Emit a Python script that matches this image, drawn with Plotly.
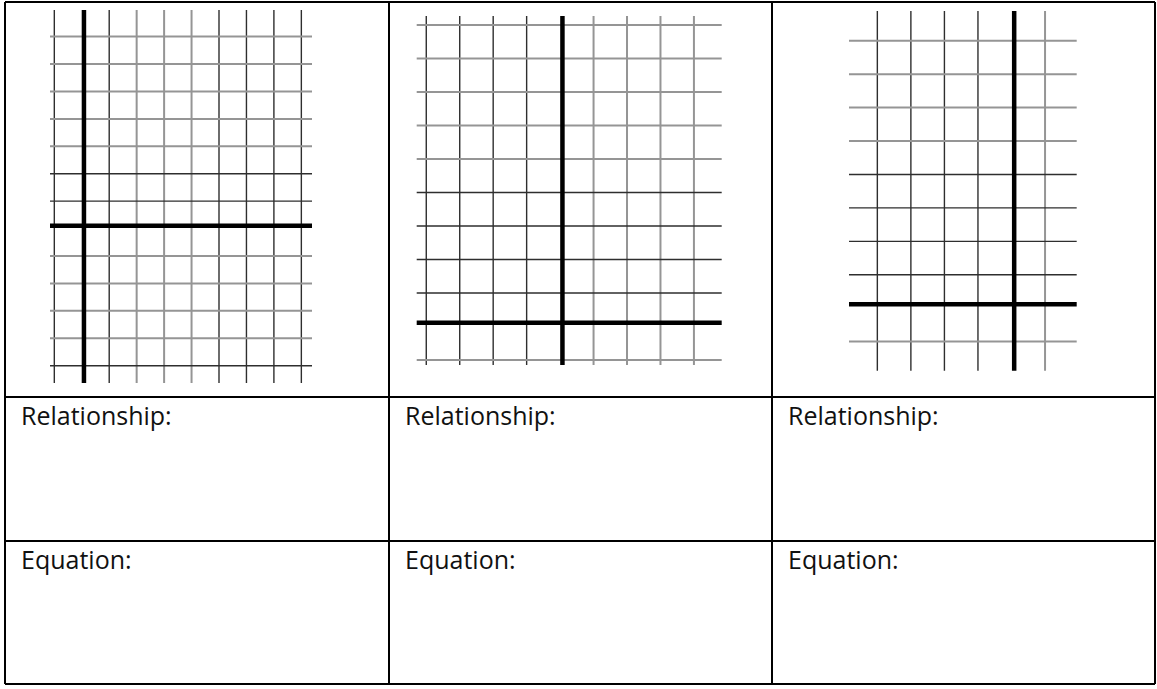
import plotly.graph_objects as go

# -- blank coordinate grids, one per column of the worksheet table --
# grid line values (the bold axes sit at 0, drawn a touch off the grid as in the scan)
g1_x = [-1, 1, 2, 3, 4, 5, 6, 7, 8]
g1_y = [7, 6, 5, 4, 3, 2, 1, -1, -2, -3, -4, -5]
g1_axes = [0.08, 0.1]

g2_x = [-4, -3, -2, -1, 1, 2, 3, 4]
g2_y = [9, 8, 7, 6, 5, 4, 3, 2, 1, -1]
g2_axes = [0.07, 0.11]

g3_x = [-4, -3, -2, -1, 1]
g3_y = [8, 7, 6, 5, 4, 3, 2, 1, -1]
g3_axes = [0.08, 0.12]

row_labels = ["Relationship:", "Equation:"]

# line shades (d = dark, g = grey, blurred)
g1_xshade = "ddgggdddd"
g1_yshade = "gggggddggggd"
g2_xshade = "ddddgggg"
g2_yshade = "gggggddddg"
g3_xshade = "ddddg"
g3_yshade = "ggggddddg"

W, H = 1157, 689
shade = {"d": dict(color="#2e2e2e", width=1.4), "g": dict(color="#959595", width=2)}

# panel boxes in pixels (left, right, top, bottom) and axis ranges
panels = [
    dict(px=(50, 312, 10, 383), xr=(-1.157, 8.388), yr=(-5.63, 7.97),
         xs=g1_x, ys=g1_y, ax=g1_axes, xsh=g1_xshade, ysh=g1_yshade),
    dict(px=(416.7, 721.7, 16, 365), xr=(-4.286, 4.83), yr=(-1.15, 9.27),
         xs=g2_x, ys=g2_y, ax=g2_axes, xsh=g2_xshade, ysh=g2_yshade),
    dict(px=(849, 1076.7, 11, 370.7), xr=(-4.845, 1.944), yr=(-1.87, 8.89),
         xs=g3_x, ys=g3_y, ax=g3_axes, xsh=g3_xshade, ysh=g3_yshade),
]

fig = go.Figure()
layout = {}
for i, p in enumerate(panels, start=1):
    sfx = "" if i == 1 else str(i)
    l, r, t, b = p["px"]
    hidden = dict(showgrid=False, zeroline=False, showticklabels=False,
                  ticks="", showline=False, fixedrange=True)
    layout["xaxis" + sfx] = dict(domain=[l / W, r / W], range=list(p["xr"]),
                                 anchor="y" + sfx, **hidden)
    layout["yaxis" + sfx] = dict(domain=[1 - b / H, 1 - t / H], range=list(p["yr"]),
                                 anchor="x" + sfx, **hidden)
    fig.add_trace(go.Scatter(x=[], y=[], xaxis="x" + sfx, yaxis="y" + sfx,
                             showlegend=False, hoverinfo="skip"))
    xref, yref = "x" + sfx, "y" + sfx
    for v, s in zip(p["xs"], p["xsh"]):
        fig.add_shape(type="line", xref=xref, yref=yref + " domain",
                      x0=v, x1=v, y0=0, y1=1, line=shade[s])
    for v, s in zip(p["ys"], p["ysh"]):
        fig.add_shape(type="line", xref=xref + " domain", yref=yref,
                      x0=0, x1=1, y0=v, y1=v, line=shade[s])
    # bold axes
    fig.add_shape(type="line", xref=xref, yref=yref + " domain",
                  x0=p["ax"][0], x1=p["ax"][0], y0=0, y1=1,
                  line=dict(color="black", width=4.5))
    fig.add_shape(type="line", xref=xref + " domain", yref=yref,
                  x0=0, x1=1, y0=p["ax"][1], y1=p["ax"][1],
                  line=dict(color="black", width=4.5))

# table borders
col_edges = [5, 389, 772, 1155]
row_edges = [2, 397, 541, 684]
border = dict(color="black", width=2)
for xe in col_edges:
    fig.add_shape(type="line", xref="paper", yref="paper",
                  x0=xe / W, x1=xe / W, y0=1 - row_edges[0] / H, y1=1 - row_edges[-1] / H,
                  line=border)
for ye in row_edges:
    fig.add_shape(type="line", xref="paper", yref="paper",
                  x0=col_edges[0] / W, x1=col_edges[-1] / W, y0=1 - ye / H, y1=1 - ye / H,
                  line=border)

# cell labels
for c in range(3):
    for k, txt in enumerate(row_labels):
        fig.add_annotation(text=txt, xref="paper", yref="paper",
                           x=(col_edges[c] + 14) / W, y=1 - (row_edges[k + 1] + 18) / H,
                           xanchor="left", yanchor="middle", showarrow=False,
                           font=dict(family="Open Sans", size=25, color="#111"))

fig.update_layout(width=W, height=H, margin=dict(l=0, r=0, t=0, b=0),
                  paper_bgcolor="white", plot_bgcolor="white", showlegend=False,
                  **layout)
fig.write_html("out.html", config={"displayModeBar": False},
               post_script="document.body.style.margin='0';")
